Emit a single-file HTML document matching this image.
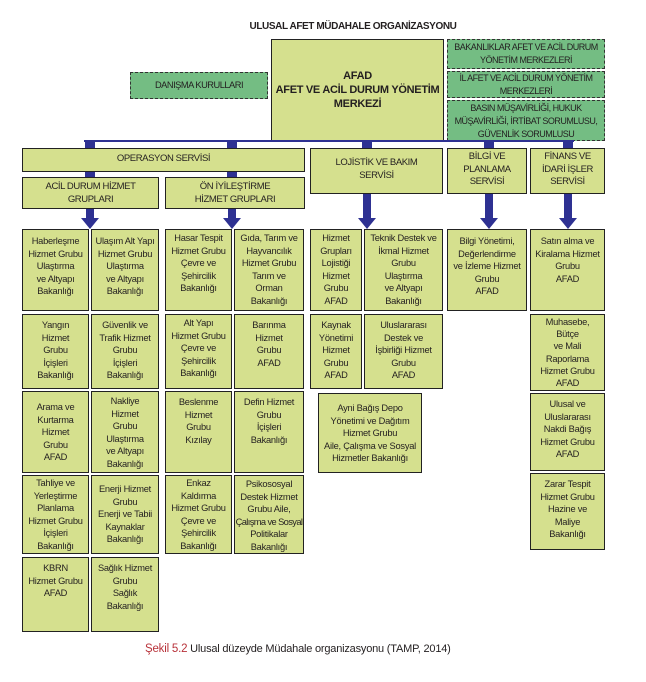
<!DOCTYPE html>
<html><head><meta charset="utf-8"><style>
body{margin:0;width:646px;height:682px;background:#fff;position:relative;overflow:hidden;font-family:"Liberation Sans",sans-serif;}
.b{position:absolute;box-sizing:border-box;background:#d5e08e;border:1.5px solid #222;text-align:center;color:#231f20;font-size:9.3px;line-height:12.6px;padding-top:3px;letter-spacing:-0.25px;white-space:nowrap;overflow:hidden;}
.g{position:absolute;box-sizing:border-box;background:#74bd83;border:1.3px dashed #333;text-align:center;color:#231f20;font-size:9.3px;line-height:13.5px;letter-spacing:-0.5px;white-space:nowrap;overflow:hidden;}
.h{font-size:9.5px;letter-spacing:-0.4px;}
.s{position:absolute;background:#2e3192;}
.t{position:absolute;width:0;height:0;border-left:9px solid transparent;border-right:9px solid transparent;border-top:11px solid #2e3192;}
</style></head><body>
<div style="position:absolute;left:200px;width:306px;top:21px;text-align:center;font-weight:bold;font-size:10px;letter-spacing:-0.4px;color:#231f20">ULUSAL AFET MÜDAHALE ORGANİZASYONU</div>

<div class="b" style="left:271px;top:39px;width:173px;height:102px;padding-top:29px;font-weight:bold;font-size:11px;line-height:14px;letter-spacing:-0.3px">AFAD<br>AFET VE ACİL DURUM YÖNETİM<br>MERKEZİ</div>
<div class="g" style="left:130px;top:72px;width:138px;height:27px;line-height:25px">DANIŞMA KURULLARI</div>
<div class="g" style="left:447px;top:39px;width:158px;height:30px;line-height:13px;padding-top:1px;font-size:9px">BAKANLIKLAR AFET VE ACİL DURUM<br>YÖNETİM MERKEZLERİ</div>
<div class="g" style="left:447px;top:71px;width:158px;height:27px;line-height:13px;padding-top:0px;font-size:9px">İL AFET VE ACİL DURUM YÖNETİM<br>MERKEZLERİ</div>
<div class="g" style="left:447px;top:100px;width:158px;height:41px;line-height:13px;padding-top:1px;font-size:9px">BASIN MÜŞAVİRLİĞİ, HUKUK<br>MÜŞAVİRLİĞİ, İRTİBAT SORUMLUSU,<br>GÜVENLİK SORUMLUSU</div>

<div class="s" style="left:84px;top:140px;width:490px;height:1.5px"></div>
<div class="s" style="left:85px;top:141px;width:10px;height:8px"></div>
<div class="s" style="left:227px;top:141px;width:10px;height:8px"></div>
<div class="s" style="left:362px;top:141px;width:10px;height:8px"></div>
<div class="s" style="left:484px;top:141px;width:10px;height:8px"></div>
<div class="s" style="left:563px;top:141px;width:10px;height:8px"></div>
<div class="s" style="left:85px;top:171px;width:10px;height:7px"></div>
<div class="s" style="left:227px;top:171px;width:10px;height:7px"></div>

<div class="b h" style="left:22px;top:148px;width:283px;height:24px;line-height:18px;padding-top:1px">OPERASYON SERVİSİ</div>
<div class="b h" style="left:22px;top:177px;width:137px;height:32px;padding-top:3px">ACİL DURUM HİZMET<br>GRUPLARI</div>
<div class="b h" style="left:165px;top:177px;width:140px;height:32px;padding-top:3px">ÖN İYİLEŞTİRME<br>HİZMET GRUPLARI</div>
<div class="b h" style="left:310px;top:148px;width:133px;height:46px;padding-top:8px">LOJİSTİK VE BAKIM<br>SERVİSİ</div>
<div class="b h" style="left:447px;top:148px;width:80px;height:46px;padding-top:2px">BİLGİ VE<br>PLANLAMA<br>SERVİSİ</div>
<div class="b h" style="left:530px;top:148px;width:75px;height:46px;padding-top:2px">FİNANS VE<br>İDARİ İŞLER<br>SERVİSİ</div>

<div class="s" style="left:86px;top:209px;width:8px;height:10px"></div><div class="t" style="left:81px;top:218px"></div>
<div class="s" style="left:228px;top:209px;width:8px;height:10px"></div><div class="t" style="left:223px;top:218px"></div>
<div class="s" style="left:363px;top:194px;width:8px;height:25px"></div><div class="t" style="left:358px;top:218px"></div>
<div class="s" style="left:485px;top:194px;width:8px;height:25px"></div><div class="t" style="left:480px;top:218px"></div>
<div class="s" style="left:564px;top:194px;width:8px;height:25px"></div><div class="t" style="left:559px;top:218px"></div>

<!-- col1 -->
<div class="b" style="left:22px;top:229px;width:67px;height:82px;padding-top:5px">Haberleşme<br>Hizmet Grubu<br>Ulaştırma<br>ve Altyapı<br>Bakanlığı</div>
<div class="b" style="left:22px;top:314px;width:67px;height:75px;padding-top:4px">Yangın<br>Hizmet<br>Grubu<br>İçişleri<br>Bakanlığı</div>
<div class="b" style="left:22px;top:391px;width:67px;height:82px;padding-top:9px">Arama ve<br>Kurtarma<br>Hizmet<br>Grubu<br>AFAD</div>
<div class="b" style="left:22px;top:475px;width:67px;height:79px;padding-top:1px">Tahliye ve<br>Yerleştirme<br>Planlama<br>Hizmet Grubu<br>İçişleri<br>Bakanlığı</div>
<div class="b" style="left:22px;top:557px;width:67px;height:75px;padding-top:4px">KBRN<br>Hizmet Grubu<br>AFAD</div>
<!-- col2 -->
<div class="b" style="left:91px;top:229px;width:68px;height:82px;padding-top:5px">Ulaşım Alt Yapı<br>Hizmet Grubu<br>Ulaştırma<br>ve Altyapı<br>Bakanlığı</div>
<div class="b" style="left:91px;top:314px;width:68px;height:75px;padding-top:4px">Güvenlik ve<br>Trafik Hizmet<br>Grubu<br>İçişleri<br>Bakanlığı</div>
<div class="b" style="left:91px;top:391px;width:68px;height:82px;padding-top:3px">Nakliye<br>Hizmet<br>Grubu<br>Ulaştırma<br>ve Altyapı<br>Bakanlığı</div>
<div class="b" style="left:91px;top:475px;width:68px;height:79px;padding-top:7px">Enerji Hizmet<br>Grubu<br>Enerji ve Tabii<br>Kaynaklar<br>Bakanlığı</div>
<div class="b" style="left:91px;top:557px;width:68px;height:75px;padding-top:4px">Sağlık Hizmet<br>Grubu<br>Sağlık<br>Bakanlığı</div>
<!-- col3 -->
<div class="b" style="left:165px;top:229px;width:67px;height:82px;padding-top:2px">Hasar Tespit<br>Hizmet Grubu<br>Çevre ve<br>Şehircilik<br>Bakanlığı</div>
<div class="b" style="left:165px;top:314px;width:67px;height:75px;padding-top:2px">Alt Yapı<br>Hizmet Grubu<br>Çevre ve<br>Şehircilik<br>Bakanlığı</div>
<div class="b" style="left:165px;top:391px;width:67px;height:82px;padding-top:4px">Beslenme<br>Hizmet<br>Grubu<br>Kızılay</div>
<div class="b" style="left:165px;top:475px;width:67px;height:79px;padding-top:1px">Enkaz<br>Kaldırma<br>Hizmet Grubu<br>Çevre ve<br>Şehircilik<br>Bakanlığı</div>
<!-- col4 -->
<div class="b" style="left:234px;top:229px;width:70px;height:82px;padding-top:2px">Gıda, Tarım ve<br>Hayvancılık<br>Hizmet Grubu<br>Tarım ve<br>Orman<br>Bakanlığı</div>
<div class="b" style="left:234px;top:314px;width:70px;height:75px;padding-top:4px">Barınma<br>Hizmet<br>Grubu<br>AFAD</div>
<div class="b" style="left:234px;top:391px;width:70px;height:82px;padding-top:4px">Defin Hizmet<br>Grubu<br>İçişleri<br>Bakanlığı</div>
<div class="b" style="left:234px;top:475px;width:70px;height:79px;padding-top:2px">Psikososyal<br>Destek Hizmet<br>Grubu Aile,<br><span style="letter-spacing:-0.6px">Çalışma ve Sosyal</span><br>Politikalar<br>Bakanlığı</div>
<!-- lojistik -->
<div class="b" style="left:310px;top:229px;width:52px;height:82px;padding-top:2px">Hizmet<br>Grupları<br>Lojistiği<br>Hizmet<br>Grubu<br>AFAD</div>
<div class="b" style="left:364px;top:229px;width:79px;height:82px;padding-top:2px">Teknik Destek ve<br>İkmal Hizmet<br>Grubu<br>Ulaştırma<br>ve Altyapı<br>Bakanlığı</div>
<div class="b" style="left:310px;top:314px;width:52px;height:75px;padding-top:4px">Kaynak<br>Yönetimi<br>Hizmet<br>Grubu<br>AFAD</div>
<div class="b" style="left:364px;top:314px;width:79px;height:75px;padding-top:4px">Uluslararası<br>Destek ve<br>İşbirliği Hizmet<br>Grubu<br>AFAD</div>
<div class="b" style="left:318px;top:393px;width:104px;height:80px;padding-top:8px">Ayni Bağış Depo<br>Yönetimi ve Dağıtım<br>Hizmet Grubu<br>Aile, Çalışma ve Sosyal<br>Hizmetler Bakanlığı</div>
<!-- bilgi -->
<div class="b" style="left:447px;top:229px;width:80px;height:82px;padding-top:5px">Bilgi Yönetimi,<br>Değerlendirme<br>ve İzleme Hizmet<br>Grubu<br>AFAD</div>
<!-- finans -->
<div class="b" style="left:530px;top:229px;width:75px;height:82px;padding-top:5px">Satın alma ve<br>Kiralama Hizmet<br>Grubu<br>AFAD</div>
<div class="b" style="left:530px;top:314px;width:75px;height:77px;padding-top:1px;line-height:12.2px">Muhasebe,<br>Bütçe<br>ve Mali<br>Raporlama<br>Hizmet Grubu<br>AFAD</div>
<div class="b" style="left:530px;top:393px;width:75px;height:78px;padding-top:4px">Ulusal ve<br>Uluslararası<br>Nakdi Bağış<br>Hizmet Grubu<br>AFAD</div>
<div class="b" style="left:530px;top:473px;width:75px;height:77px;padding-top:4px">Zarar Tespit<br>Hizmet Grubu<br>Hazine ve<br>Maliye<br>Bakanlığı</div>

<div style="position:absolute;left:145px;top:643px;font-size:11px;color:#231f20;letter-spacing:-0.2px;white-space:nowrap"><span style="color:#b8323a;font-size:11.5px">Şekil 5.2</span> Ulusal düzeyde Müdahale organizasyonu (TAMP, 2014)</div>
</body></html>
